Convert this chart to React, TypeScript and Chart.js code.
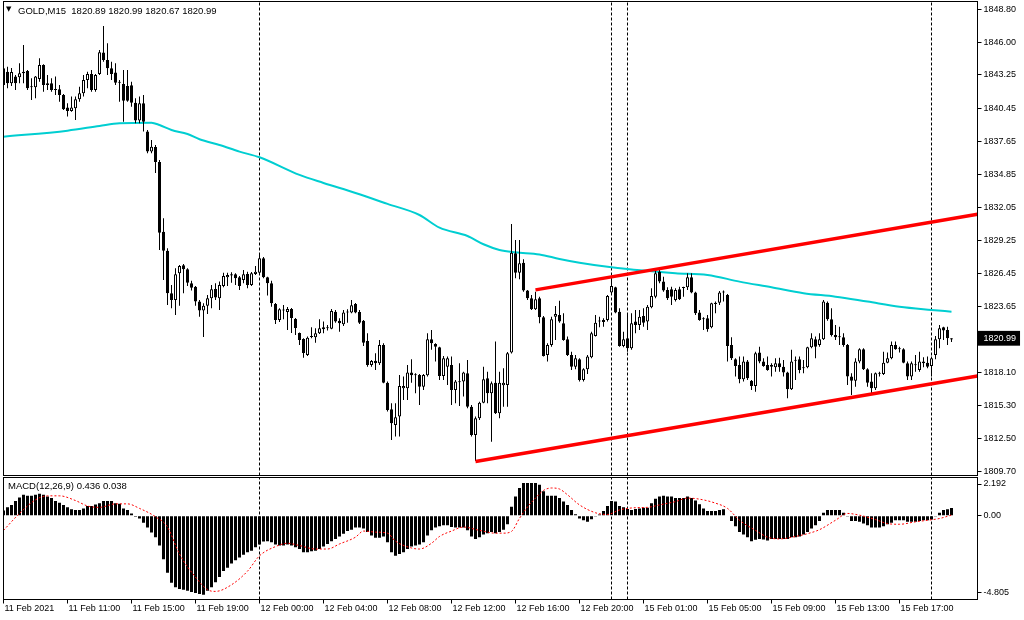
import React, { useEffect, useRef } from 'react';
import { Chart, registerables } from 'chart.js';

Chart.register(...registerables);

// ---------- header texts ----------
const symbolTitle = 'GOLD,M15';
const titleQuote = [1820.89, 1820.99, 1820.67, 1820.99];
const macdTitle = 'MACD(12,26,9)';
const macdLast = [0.436, 0.038];

// ---------- candles (bar index = position in array) ----------
const openP = [
  1843.82, 1843.53, 1842.55, 1843.11, 1843.06, 1843.39, 1843.59, 1842.21, 1842.21, 1842.91,
  1844.10, 1842.40, 1842.55, 1842.04, 1842.04, 1841.56, 1840.49, 1840.21, 1840.44, 1841.20,
  1841.70, 1842.83, 1843.34, 1841.98, 1843.34, 1845.14, 1844.52, 1843.82, 1843.45, 1842.68,
  1842.49, 1842.32, 1842.38, 1840.91, 1839.39, 1840.86, 1838.46, 1836.77, 1837.16, 1835.90,
  1830.00, 1828.40, 1824.80, 1824.23, 1826.49, 1827.16, 1826.83, 1825.64, 1825.35, 1824.09,
  1823.33, 1823.75, 1824.38, 1825.16, 1824.38, 1825.41, 1826.15, 1826.29, 1826.40, 1826.15,
  1825.92, 1826.43, 1825.50, 1826.43, 1826.54, 1827.76, 1826.15, 1825.64, 1823.89, 1822.54,
  1823.39, 1823.22, 1823.47, 1822.62, 1821.44, 1820.93, 1819.58, 1821.10, 1821.08, 1821.42,
  1821.92, 1821.84, 1821.80, 1823.24, 1822.48, 1822.18, 1823.16, 1823.16, 1823.89, 1823.22,
  1822.48, 1820.77, 1818.74, 1819.10, 1818.88, 1820.43, 1817.24, 1814.99, 1813.66, 1814.37,
  1816.77, 1816.77, 1818.09, 1817.87, 1817.89, 1816.90, 1817.87, 1820.91, 1820.51, 1820.23,
  1817.81, 1818.59, 1818.74, 1816.62, 1817.33, 1817.33, 1818.03, 1815.21, 1812.82, 1814.23,
  1815.55, 1817.61, 1816.34, 1817.24, 1814.65, 1817.02, 1817.05, 1819.78, 1828.18, 1826.54,
  1827.38, 1825.02, 1824.38, 1823.45, 1824.38, 1822.77, 1819.58, 1820.43, 1822.82, 1822.96,
  1822.26, 1820.91, 1819.58, 1818.59, 1819.22, 1817.47, 1818.37, 1819.39, 1821.19, 1822.40,
  1822.37, 1822.54, 1824.85, 1825.30, 1823.24, 1820.34, 1820.99, 1820.15, 1822.40, 1822.12,
  1822.88, 1822.40, 1823.61, 1824.51, 1826.62, 1825.78, 1825.08, 1825.13, 1824.23, 1825.13,
  1825.24, 1825.30, 1826.15, 1824.85, 1823.16, 1822.60, 1822.68, 1821.92, 1823.89, 1824.00,
  1824.85, 1824.65, 1820.43, 1819.22, 1818.74, 1817.53, 1819.02, 1817.41, 1816.96, 1819.78,
  1819.02, 1818.74, 1818.74, 1818.54, 1818.88, 1818.59, 1818.09, 1816.68, 1819.16, 1819.22,
  1818.54, 1818.54, 1820.23, 1820.91, 1820.43, 1820.91, 1824.00, 1822.60, 1821.27, 1821.13,
  1821.08, 1820.43, 1817.75, 1817.41, 1819.02, 1820.06, 1818.37, 1817.33, 1816.77, 1818.03,
  1817.98, 1818.93, 1819.30, 1820.43, 1820.15, 1820.06, 1818.88, 1817.75, 1818.74, 1818.31,
  1818.88, 1818.93, 1818.65, 1819.58, 1820.91, 1821.92, 1821.70, 1820.89,
];
const highP = [
  1843.84, 1843.95, 1843.84, 1843.25, 1844.24, 1845.79, 1843.67, 1842.97, 1843.17, 1844.66,
  1844.16, 1843.25, 1842.97, 1843.11, 1842.40, 1841.64, 1840.86, 1841.42, 1841.42, 1842.26,
  1843.25, 1843.53, 1843.67, 1843.34, 1845.36, 1847.39, 1845.93, 1844.37, 1844.24, 1842.83,
  1843.67, 1843.67, 1842.68, 1841.28, 1841.42, 1841.56, 1838.60, 1837.76, 1837.33, 1836.07,
  1831.14, 1828.60, 1825.50, 1826.91, 1827.19, 1827.27, 1826.91, 1825.86, 1825.41, 1824.23,
  1823.95, 1824.65, 1825.50, 1825.64, 1825.78, 1826.54, 1826.54, 1826.57, 1826.49, 1826.26,
  1826.77, 1826.62, 1826.60, 1827.10, 1828.03, 1827.87, 1826.20, 1825.86, 1823.98, 1823.53,
  1823.81, 1823.64, 1823.56, 1822.71, 1821.47, 1820.99, 1821.13, 1821.92, 1821.84, 1822.60,
  1822.40, 1822.12, 1823.47, 1823.39, 1822.68, 1823.39, 1823.45, 1824.23, 1823.98, 1823.39,
  1822.54, 1821.42, 1819.16, 1819.72, 1820.85, 1820.57, 1817.33, 1815.50, 1815.50, 1817.89,
  1817.75, 1818.74, 1819.22, 1818.03, 1817.98, 1817.98, 1821.42, 1821.70, 1820.57, 1820.28,
  1819.50, 1819.44, 1819.44, 1817.47, 1818.88, 1818.17, 1819.16, 1815.35, 1814.37, 1815.63,
  1818.59, 1818.17, 1817.33, 1820.71, 1818.17, 1818.46, 1819.84, 1830.65, 1829.30, 1829.30,
  1827.67, 1825.08, 1824.65, 1824.93, 1824.51, 1822.88, 1820.57, 1822.82, 1823.72, 1824.17,
  1823.11, 1821.13, 1819.86, 1819.58, 1819.30, 1818.46, 1819.58, 1821.55, 1822.96, 1822.82,
  1822.68, 1824.65, 1826.20, 1825.35, 1823.53, 1821.55, 1823.11, 1823.11, 1823.39, 1823.39,
  1823.53, 1823.81, 1825.22, 1826.77, 1826.91, 1826.20, 1825.30, 1825.35, 1825.22, 1825.35,
  1825.35, 1826.49, 1826.49, 1824.93, 1823.39, 1822.77, 1822.96, 1824.00, 1824.09, 1824.99,
  1825.02, 1824.74, 1821.08, 1819.30, 1819.44, 1819.44, 1819.16, 1817.47, 1819.86, 1820.28,
  1819.30, 1819.44, 1818.88, 1819.30, 1819.35, 1819.16, 1818.17, 1820.01, 1819.44, 1819.44,
  1819.16, 1820.28, 1821.42, 1821.13, 1821.42, 1824.23, 1824.09, 1823.53, 1822.12, 1821.97,
  1821.42, 1820.51, 1818.03, 1819.30, 1820.15, 1820.15, 1818.46, 1818.03, 1818.09, 1818.17,
  1819.86, 1819.78, 1820.71, 1820.71, 1820.28, 1820.15, 1819.02, 1819.02, 1819.58, 1819.86,
  1819.39, 1819.44, 1819.44, 1821.19, 1822.12, 1821.97, 1821.97, 1820.99,
];
const lowP = [
  1841.70, 1842.13, 1842.32, 1841.98, 1842.55, 1842.55, 1841.98, 1841.14, 1841.28, 1842.68,
  1841.84, 1841.98, 1841.84, 1841.56, 1840.99, 1840.29, 1839.73, 1840.15, 1839.45, 1840.99,
  1841.42, 1842.13, 1841.84, 1841.84, 1843.25, 1844.37, 1843.25, 1842.83, 1842.40, 1840.99,
  1839.30, 1840.99, 1840.57, 1839.17, 1839.17, 1838.46, 1836.63, 1836.63, 1834.97, 1828.46,
  1825.92, 1823.81, 1823.53, 1822.96, 1823.75, 1824.80, 1825.41, 1825.02, 1823.75, 1822.82,
  1821.10, 1823.05, 1823.53, 1824.23, 1823.39, 1825.30, 1825.41, 1825.69, 1825.50, 1825.08,
  1825.64, 1825.22, 1825.41, 1826.34, 1826.34, 1826.07, 1824.60, 1823.66, 1822.20, 1822.37,
  1822.60, 1821.70, 1821.44, 1821.27, 1820.43, 1819.35, 1819.50, 1820.99, 1820.62, 1821.36,
  1821.42, 1821.64, 1821.75, 1822.31, 1821.55, 1822.03, 1822.31, 1823.11, 1823.11, 1822.20,
  1820.34, 1818.59, 1818.59, 1818.31, 1818.74, 1817.19, 1814.79, 1812.40, 1812.68, 1812.68,
  1815.78, 1815.78, 1817.24, 1816.34, 1815.35, 1816.62, 1817.75, 1820.01, 1819.02, 1817.47,
  1817.47, 1817.05, 1815.35, 1815.50, 1815.27, 1816.06, 1815.08, 1812.68, 1810.62, 1814.09,
  1815.50, 1815.50, 1812.25, 1814.59, 1814.23, 1815.21, 1815.21, 1819.71, 1826.07, 1825.98,
  1824.93, 1824.23, 1823.39, 1823.39, 1822.26, 1819.44, 1819.02, 1820.28, 1820.85, 1822.31,
  1820.79, 1819.50, 1818.31, 1818.37, 1817.33, 1817.33, 1817.98, 1819.30, 1821.13, 1821.92,
  1821.97, 1822.40, 1824.65, 1823.11, 1820.28, 1820.23, 1819.86, 1820.01, 1821.42, 1821.70,
  1821.97, 1821.70, 1823.53, 1824.37, 1825.64, 1824.93, 1824.23, 1823.81, 1824.09, 1824.23,
  1824.51, 1825.08, 1824.80, 1822.96, 1822.48, 1821.70, 1821.55, 1821.84, 1823.11, 1823.81,
  1824.09, 1819.02, 1819.16, 1817.75, 1817.19, 1817.33, 1817.47, 1816.62, 1816.48, 1818.88,
  1818.59, 1818.25, 1817.75, 1818.17, 1818.17, 1817.75, 1815.92, 1816.62, 1817.47, 1818.03,
  1818.03, 1818.46, 1820.15, 1819.30, 1820.28, 1820.85, 1822.48, 1821.13, 1820.85, 1820.43,
  1820.28, 1817.05, 1816.20, 1816.90, 1818.88, 1818.31, 1816.90, 1816.34, 1816.62, 1817.75,
  1817.89, 1818.88, 1819.22, 1820.01, 1819.78, 1818.88, 1817.47, 1817.47, 1818.17, 1818.17,
  1818.54, 1818.46, 1817.75, 1819.22, 1820.15, 1820.85, 1820.43, 1820.67,
];
const closeP = [
  1842.40, 1842.55, 1843.50, 1842.55, 1843.39, 1843.53, 1842.13, 1842.26, 1843.11, 1844.10,
  1842.40, 1842.55, 1841.98, 1841.98, 1841.56, 1840.35, 1840.21, 1840.49, 1841.20, 1841.70,
  1842.83, 1843.34, 1841.98, 1843.25, 1845.17, 1844.52, 1843.82, 1843.34, 1842.60, 1842.60,
  1841.08, 1841.08, 1840.91, 1839.39, 1840.86, 1839.30, 1836.77, 1837.19, 1835.90, 1829.92,
  1828.40, 1824.80, 1824.23, 1826.40, 1827.10, 1826.83, 1825.69, 1825.27, 1824.09, 1823.33,
  1823.75, 1824.38, 1825.13, 1824.43, 1825.50, 1826.26, 1826.34, 1826.40, 1826.07, 1825.41,
  1826.40, 1825.50, 1826.49, 1826.62, 1827.76, 1826.15, 1825.64, 1823.95, 1822.54, 1823.45,
  1823.33, 1823.47, 1822.71, 1821.86, 1820.85, 1819.75, 1821.04, 1821.19, 1821.42, 1821.84,
  1821.75, 1821.89, 1823.30, 1822.40, 1822.26, 1823.16, 1823.24, 1823.78, 1823.16, 1822.31,
  1820.62, 1818.74, 1819.07, 1818.88, 1820.43, 1817.24, 1814.93, 1813.81, 1814.31, 1816.96,
  1816.96, 1818.09, 1817.87, 1817.89, 1816.90, 1817.89, 1820.91, 1820.57, 1820.28, 1817.81,
  1819.30, 1819.30, 1816.62, 1817.33, 1817.28, 1818.09, 1815.21, 1812.82, 1814.23, 1815.55,
  1817.53, 1816.34, 1817.19, 1814.65, 1817.24, 1817.24, 1819.73, 1828.23, 1826.54, 1827.33,
  1825.02, 1824.38, 1823.45, 1824.29, 1822.77, 1819.50, 1820.43, 1822.60, 1823.05, 1822.40,
  1820.85, 1819.58, 1818.59, 1819.30, 1817.47, 1818.37, 1819.44, 1821.42, 1822.31, 1822.48,
  1822.54, 1824.57, 1825.41, 1823.16, 1820.34, 1820.91, 1820.15, 1822.26, 1822.12, 1822.82,
  1822.31, 1823.66, 1824.57, 1826.49, 1825.78, 1825.02, 1824.38, 1824.51, 1825.08, 1824.29,
  1825.30, 1826.15, 1824.85, 1823.11, 1822.54, 1822.68, 1821.75, 1823.95, 1824.00, 1824.85,
  1824.93, 1820.34, 1819.30, 1818.65, 1817.53, 1819.02, 1817.61, 1816.96, 1819.73, 1819.02,
  1818.65, 1818.31, 1818.59, 1818.88, 1818.54, 1818.09, 1816.68, 1819.02, 1819.10, 1818.31,
  1818.46, 1820.23, 1820.99, 1820.28, 1820.91, 1824.09, 1822.60, 1821.27, 1821.08, 1821.08,
  1820.43, 1817.75, 1817.41, 1819.02, 1820.06, 1818.37, 1817.24, 1816.77, 1818.03, 1818.00,
  1818.93, 1819.30, 1820.43, 1820.06, 1820.06, 1818.93, 1817.75, 1818.88, 1818.71, 1819.02,
  1819.02, 1818.59, 1819.30, 1820.91, 1821.84, 1821.64, 1820.99, 1820.99,
];

// ---------- moving average (read at these bars) ----------
const maBars = [0, 16, 24, 29, 37, 39, 42, 46, 49, 54, 59, 64, 74, 80, 88, 96, 104, 109, 116, 120,
  124, 128, 134, 139, 144, 152, 160, 168, 176, 184, 192, 200, 208, 216, 224, 232, 237];
const maValues = [1838.03, 1838.54, 1838.94, 1839.17, 1839.22, 1839.02, 1838.60, 1838.26, 1837.81,
  1837.33, 1836.77, 1836.29, 1834.80, 1834.12, 1833.27, 1832.35, 1831.41, 1830.34, 1829.64, 1828.94,
  1828.46, 1828.26, 1828.08, 1827.70, 1827.38, 1826.99, 1826.71, 1826.49, 1826.34, 1825.78, 1825.30,
  1824.80, 1824.51, 1824.09, 1823.66, 1823.39, 1823.24];

// ---------- trend lines and period separators ----------
const upperTrendBars = [133, 243.5];
const upperTrendValues = [1825.08, 1831.48];
const lowerTrendBars = [118, 243.5];
const lowerTrendValues = [1810.58, 1817.80];
const separatorBars = [64, 152, 156, 232];

// ---------- MACD ----------
const macdValues = [
  0.30, 0.48, 0.62, 0.85, 1.05, 1.20, 1.14, 1.14, 1.20, 1.26,
  1.20, 1.10, 1.01, 0.85, 0.75, 0.62, 0.48, 0.37, 0.33, 0.33,
  0.42, 0.56, 0.56, 0.64, 0.72, 0.85, 0.85, 0.85, 0.72, 0.68,
  0.42, 0.33, 0.13, -0.06, -0.16, -0.41, -0.68, -0.96, -1.23, -1.71,
  -2.49, -3.27, -3.85, -4.10, -4.20, -4.24, -4.30, -4.38, -4.43, -4.49,
  -4.53, -4.30, -4.10, -3.81, -3.52, -3.17, -2.98, -2.74, -2.55, -2.39,
  -2.24, -2.10, -2.01, -1.81, -1.65, -1.48, -1.46, -1.52, -1.65, -1.71,
  -1.71, -1.65, -1.71, -1.81, -1.91, -2.10, -2.10, -2.04, -2.01, -1.91,
  -1.77, -1.62, -1.46, -1.33, -1.19, -1.03, -0.88, -0.80, -0.68, -0.68,
  -0.74, -0.94, -1.13, -1.27, -1.27, -1.19, -1.52, -2.10, -2.30, -2.20,
  -2.10, -1.91, -1.77, -1.71, -1.65, -1.52, -1.13, -0.84, -0.68, -0.61,
  -0.55, -0.55, -0.64, -0.68, -0.68, -0.68, -0.84, -1.19, -1.33, -1.23,
  -1.07, -1.00, -0.94, -1.00, -0.94, -0.80, -0.49, 0.52, 1.10, 1.59,
  1.88, 1.88, 1.88, 1.88, 1.78, 1.40, 1.14, 1.14, 1.14, 1.01,
  0.81, 0.62, 0.33, 0.09, -0.16, -0.26, -0.35, -0.20, -0.02, 0.07,
  0.27, 0.56, 0.85, 0.81, 0.56, 0.48, 0.38, 0.33, 0.38, 0.42,
  0.46, 0.46, 0.72, 0.97, 1.10, 1.14, 1.10, 1.10, 1.01, 1.01,
  1.01, 1.10, 1.01, 0.87, 0.66, 0.42, 0.27, 0.27, 0.27, 0.33,
  0.37, 0.03, -0.30, -0.61, -0.94, -1.07, -1.23, -1.46, -1.38, -1.33,
  -1.36, -1.42, -1.33, -1.33, -1.33, -1.33, -1.33, -1.23, -1.23, -1.19,
  -1.07, -0.94, -0.74, -0.55, -0.31, 0.17, 0.33, 0.33, 0.33, 0.33,
  0.17, -0.02, -0.30, -0.30, -0.35, -0.45, -0.55, -0.68, -0.68, -0.68,
  -0.61, -0.49, -0.41, -0.26, -0.26, -0.26, -0.35, -0.35, -0.35, -0.30,
  -0.26, -0.26, -0.22, -0.02, 0.17, 0.33, 0.37, 0.436,
];
const signalBars = [0, 4, 8, 11, 14, 18, 21, 24, 28, 31, 34, 38, 41, 44, 48, 51, 53, 57, 61, 64,
  68, 71, 74, 78, 81, 84, 88, 90, 93, 96, 98, 102, 104, 107, 109, 112, 115, 119, 123, 125,
  127, 129, 131, 133, 135, 137, 139, 141, 144, 148, 151, 154, 158, 161, 164, 168, 171, 174, 178, 181,
  184, 188, 191, 194, 198, 201, 204, 208, 211, 214, 218, 221, 224, 228, 231, 234, 237];
const signalValues = [-0.84, 0.13, 0.91, 1.14, 1.14, 0.87, 0.56, 0.48, 0.68, 0.68, 0.42, -0.06, -0.65,
  -2.20, -3.52, -4.24, -4.34, -3.96, -3.18, -2.30, -1.77, -1.58, -1.71, -1.91, -1.91, -1.62, -1.23,
  -0.88, -0.94, -1.00, -1.46, -1.85, -1.91, -1.58, -1.19, -0.88, -0.65, -0.84, -1.00, -1.00,
  -0.90, -0.15, 0.50, 1.01, 1.45, 1.59, 1.53, 1.20, 0.62, 0.17, 0.07, 0.33, 0.46, 0.48, 0.62, 0.81,
  1.01, 0.95, 0.72, 0.42, -0.26, -0.84, -1.23, -1.33, -1.19, -1.03, -0.80, -0.26, 0.13, 0.03,
  -0.22, -0.45, -0.49, -0.35, -0.26, -0.16, 0.038];

// ---------- axes ----------
const timeTickBars = [0, 16, 32, 48, 64, 80, 96, 112, 128, 144, 160, 176, 192, 208, 224];
const timeTickLabels = ['11 Feb 2021', '11 Feb 11:00', '11 Feb 15:00', '11 Feb 19:00', '12 Feb 00:00',
  '12 Feb 04:00', '12 Feb 08:00', '12 Feb 12:00', '12 Feb 16:00', '12 Feb 20:00', '15 Feb 01:00',
  '15 Feb 05:00', '15 Feb 09:00', '15 Feb 13:00', '15 Feb 17:00'];
const priceTicks = [1848.80, 1846.00, 1843.25, 1840.45, 1837.65, 1834.85, 1832.05, 1829.25,
  1826.45, 1823.65, 1820.99, 1818.10, 1815.30, 1812.50, 1809.70];
const lastPrice = 1820.99;
const PRICE_MIN = 1809.39;
const PRICE_MAX = 1849.46;
const BAR_MIN = 0;
const BAR_MAX = 243.5;
const MACD_MIN = -4.805;
const MACD_MAX = 2.192;
const macdTickLabels = ['2.192', '0.00', '-4.805'];
const macdTickPositions = [1.819, 0, -4.404];

const FONT = 'Liberation Sans';
const AXIS_W = 46.5;

const framePlugin = {
  id: 'mtFrame',
  afterDatasetsDraw(chart: any) {
    const { ctx, chartArea: a } = chart;
    ctx.save();
    ctx.strokeStyle = '#000';
    ctx.lineWidth = 1;
    ctx.strokeRect(a.left, a.top, a.right - a.left, a.bottom - a.top);
    ctx.restore();
  },
};

function vLines(min: number, max: number) {
  return separatorBars.map((b) => ({
    type: 'line' as const,
    data: [{ x: b, y: min }, { x: b, y: max }],
    borderColor: '#000',
    borderWidth: 1,
    borderDash: [3, 2],
    pointRadius: 0,
    order: 10,
  }));
}

function fixAxisPadding(scale: any) {
  scale.paddingTop = 0;
  scale.paddingBottom = 0;
  scale.paddingLeft = 0;
  scale.paddingRight = 0;
}

export default function App() {
  const mainRef = useRef<HTMLCanvasElement>(null);
  const macdRef = useRef<HTMLCanvasElement>(null);

  useEffect(() => {
    document.body.style.margin = '0';
    const idx = openP.map((_, i) => i);

    const mainChart = new Chart(mainRef.current as HTMLCanvasElement, {
      type: 'bar',
      data: {
        datasets: [
          {
            type: 'line',
            data: upperTrendBars.map((b, i) => ({ x: b, y: upperTrendValues[i] })),
            borderColor: '#ff0000',
            borderWidth: 3.5,
            pointRadius: 0,
            order: 0,
          } as any,
          {
            type: 'line',
            data: lowerTrendBars.map((b, i) => ({ x: b, y: lowerTrendValues[i] })),
            borderColor: '#ff0000',
            borderWidth: 3.5,
            pointRadius: 0,
            order: 0,
          } as any,
          {
            type: 'bar',
            data: idx.map((i) => ({ x: i, y: [openP[i], closeP[i]] })),
            backgroundColor: idx.map((i) => (closeP[i] >= openP[i] ? '#ffffff' : '#000000')),
            borderColor: '#000',
            borderWidth: 1,
            borderSkipped: false,
            barThickness: 3,
            minBarLength: 1,
            grouped: false,
            inflateAmount: 0,
            order: 1,
          } as any,
          {
            type: 'bar',
            data: idx.map((i) => ({ x: i, y: [lowP[i], highP[i]] })),
            backgroundColor: '#000',
            borderWidth: 0,
            barThickness: 1,
            grouped: false,
            inflateAmount: 0,
            order: 2,
          } as any,
          {
            type: 'line',
            data: maBars.map((b, i) => ({ x: b, y: maValues[i] })),
            borderColor: '#00ced1',
            borderWidth: 2,
            pointRadius: 0,
            cubicInterpolationMode: 'monotone',
            order: 3,
          } as any,
          ...(vLines(PRICE_MIN, PRICE_MAX) as any[]),
        ],
      },
      options: {
        animation: false,
        responsive: false,
        devicePixelRatio: 1,
        events: [],
        layout: { padding: { left: 3.5, top: 1.5, right: 0, bottom: 4.5 }, autoPadding: false } as any,
        plugins: { legend: { display: false }, tooltip: { enabled: false } },
        scales: {
          x: {
            type: 'linear',
            display: false,
            min: BAR_MIN,
            max: BAR_MAX,
            offset: false,
          },
          y: {
            type: 'linear',
            position: 'right',
            min: PRICE_MIN,
            max: PRICE_MAX,
            border: { display: false },
            grid: { drawOnChartArea: false, drawTicks: true, tickLength: 4, color: '#000' },
            afterBuildTicks: (scale: any) => {
              scale.ticks = priceTicks.map((v) => ({ value: v }));
            },
            afterFit: (scale: any) => {
              scale.width = AXIS_W;
              fixAxisPadding(scale);
            },
            ticks: {
              autoSkip: false,
              padding: 2,
              font: { family: FONT, size: 9 },
              color: (ctx: any) => (ctx.tick && ctx.tick.value === lastPrice ? '#ffffff' : '#000000'),
              showLabelBackdrop: (ctx: any) => !!(ctx.tick && ctx.tick.value === lastPrice),
              backdropColor: '#000000',
              backdropPadding: { top: 2, bottom: 2, left: 6, right: 4 },
              callback: (v: any) => Number(v).toFixed(2),
            } as any,
          },
        },
      },
      plugins: [framePlugin],
    } as any);

    const macdChart = new Chart(macdRef.current as HTMLCanvasElement, {
      type: 'bar',
      data: {
        datasets: [
          {
            type: 'line',
            data: signalBars.map((b, i) => ({ x: b, y: signalValues[i] })),
            borderColor: '#ff0000',
            borderWidth: 1,
            borderDash: [2, 2],
            pointRadius: 0,
            cubicInterpolationMode: 'monotone',
            order: 0,
          } as any,
          {
            type: 'bar',
            data: macdValues.map((v, i) => ({ x: i, y: v })),
            backgroundColor: '#000',
            borderWidth: 0,
            barThickness: 3,
            grouped: false,
            inflateAmount: 0,
            order: 1,
          } as any,
          ...(vLines(MACD_MIN, MACD_MAX) as any[]),
        ],
      },
      options: {
        animation: false,
        responsive: false,
        devicePixelRatio: 1,
        events: [],
        layout: { padding: { left: 3.5, top: 1.5, right: 0, bottom: 0 }, autoPadding: false } as any,
        plugins: { legend: { display: false }, tooltip: { enabled: false } },
        scales: {
          x: {
            type: 'linear',
            min: BAR_MIN,
            max: BAR_MAX,
            offset: false,
            border: { display: false },
            grid: { drawOnChartArea: false, drawTicks: true, tickLength: 4, color: '#000', offset: false },
            afterBuildTicks: (scale: any) => {
              scale.ticks = timeTickBars.map((v) => ({ value: v }));
            },
            afterFit: (scale: any) => {
              scale.height = 20.5;
              fixAxisPadding(scale);
            },
            ticks: {
              autoSkip: false,
              maxRotation: 0,
              minRotation: 0,
              align: 'start',
              padding: 0,
              labelOffset: 1,
              font: { family: FONT, size: 9 },
              color: '#000',
              callback: (_v: any, i: number) => timeTickLabels[i],
            } as any,
          },
          y: {
            type: 'linear',
            position: 'right',
            min: MACD_MIN,
            max: MACD_MAX,
            border: { display: false },
            grid: { drawOnChartArea: false, drawTicks: true, tickLength: 4, color: '#000' },
            afterBuildTicks: (scale: any) => {
              scale.ticks = macdTickPositions.map((v) => ({ value: v }));
            },
            afterFit: (scale: any) => {
              scale.width = AXIS_W;
              fixAxisPadding(scale);
            },
            ticks: {
              autoSkip: false,
              padding: 2,
              font: { family: FONT, size: 9 },
              color: '#000',
              callback: (_v: any, i: number) => macdTickLabels[i],
            },
          },
        },
      },
      plugins: [framePlugin],
    } as any);

    return () => {
      mainChart.destroy();
      macdChart.destroy();
    };
  }, []);

  const titleText = `${symbolTitle}  ${titleQuote.map((v) => v.toFixed(2)).join(' ')}`;
  const macdText = `${macdTitle} ${macdLast[0].toFixed(3)} ${macdLast[1].toFixed(3)}`;
  const textStyle: React.CSSProperties = {
    position: 'absolute',
    fontFamily: FONT,
    fontSize: '9.5px',
    lineHeight: '11px',
    color: '#000',
    whiteSpace: 'pre',
  };

  return (
    <div style={{ position: 'relative', width: 1024, height: 620, background: '#fff', overflow: 'hidden' }}>
      <canvas ref={mainRef} width={1024} height={480}
        style={{ position: 'absolute', left: 0, top: 0, width: 1024, height: 480 }} />
      <canvas ref={macdRef} width={1024} height={144}
        style={{ position: 'absolute', left: 0, top: 476, width: 1024, height: 144 }} />
      <div style={{ ...textStyle, left: 6, top: 4, fontSize: '7px', lineHeight: '10px', fontFamily: 'DejaVu Sans' }}>▼</div>
      <div style={{ ...textStyle, left: 18, top: 5 }}>{titleText}</div>
      <div style={{ ...textStyle, left: 8, top: 480 }}>{macdText}</div>
    </div>
  );
}
